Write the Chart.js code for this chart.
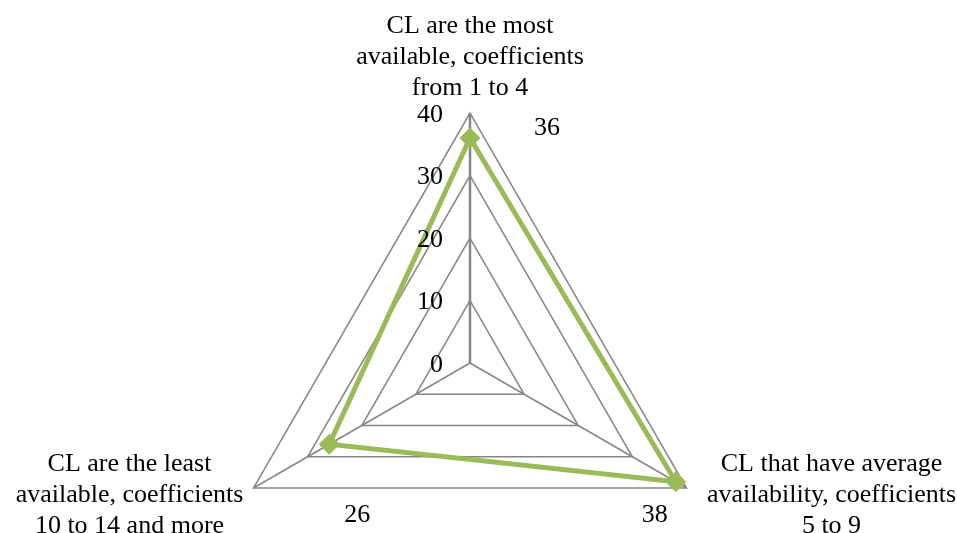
<!DOCTYPE html>
<html>
<head>
<meta charset="utf-8">
<script src="https://cdn.jsdelivr.net/npm/chart.js@4/dist/chart.umd.min.js"></script>
<style>
  body { margin: 0; background: #fff; overflow: hidden; }
  #wrap { width: 957px; height: 533px; overflow: hidden; }
  canvas { display: block; }
</style>
</head>
<body>
<div id="wrap"><canvas id="chart" width="957" height="613"></canvas></div>
<script>
// categories, clockwise from the top
const categories = [
    ["CL are the most", "available, coefficients", "from 1 to 4"],
    ["CL that have average", "availability, coefficients", "5 to 9"],
    ["CL are the least", "available, coefficients", "10 to 14 and more"]
]
const values = [36, 38, 26]
const tickValues = [0, 10, 20, 30, 40]

// where the texts sit relative to their anchor (px)
const pointLabelOffsets = [[0, -56], [145, 7], [-124, 7]]
const dataLabelOffsets = [[77, -10], [-21, 33], [28, 71]]

const green = "#9BBB59"
const gray = "#868686"
const font = '26px "Liberation Serif", "Times New Roman", serif'

const textPlugin = {
    id: "texts",
    afterDraw(chart) {
        let ctx = chart.ctx
        let scale = chart.scales.r
        ctx.save()
        ctx.font = font
        ctx.fillStyle = "#000"
        ctx.textBaseline = "middle"

        // tick labels, left of the vertical axis
        ctx.textAlign = "right"
        tickValues.forEach(v => {
            let y = scale.yCenter - scale.getDistanceFromCenterForValue(v)
            ctx.fillText(String(v), scale.xCenter - 27, y + 2)
        })

        ctx.textAlign = "center"
        // category labels
        categories.forEach((lines, i) => {
            let p = scale.getPointPositionForValue(i, tickValues[tickValues.length - 1])
            let off = pointLabelOffsets[i]
            lines.forEach((line, k) => {
                ctx.fillText(line, p.x + off[0], p.y + off[1] + (k - (lines.length - 1) / 2) * 31)
            })
        })

        // value labels
        values.forEach((v, i) => {
            let p = scale.getPointPositionForValue(i, v)
            let off = dataLabelOffsets[i]
            ctx.fillText(String(v), p.x + off[0], p.y + off[1])
        })
        ctx.restore()
    }
}

new Chart(document.getElementById("chart").getContext("2d"), {
    type: "radar",
    data: {
        labels: categories,
        datasets: [{
            data: values,
            borderColor: green,
            backgroundColor: green,
            borderWidth: 5,
            fill: false,
            pointStyle: "rectRot",
            pointRadius: 10,
            pointBorderWidth: 1,
            pointBackgroundColor: green,
            pointBorderColor: green
        }]
    },
    options: {
        responsive: false,
        animation: false,
        layout: { padding: { left: 220, right: 237, top: 113, bottom: 0 } },
        plugins: { legend: { display: false }, tooltip: { enabled: false } },
        scales: {
            r: {
                min: 0,
                max: 40,
                ticks: { stepSize: 10, display: false, showLabelBackdrop: false },
                pointLabels: { display: false },
                grid: { color: gray, lineWidth: 1.5 },
                angleLines: {
                    color: gray,
                    lineWidth: ctx => ctx.index === 0 ? 2.5 : 1.5
                }
            }
        }
    },
    plugins: [textPlugin]
})
</script>
</body>
</html>
